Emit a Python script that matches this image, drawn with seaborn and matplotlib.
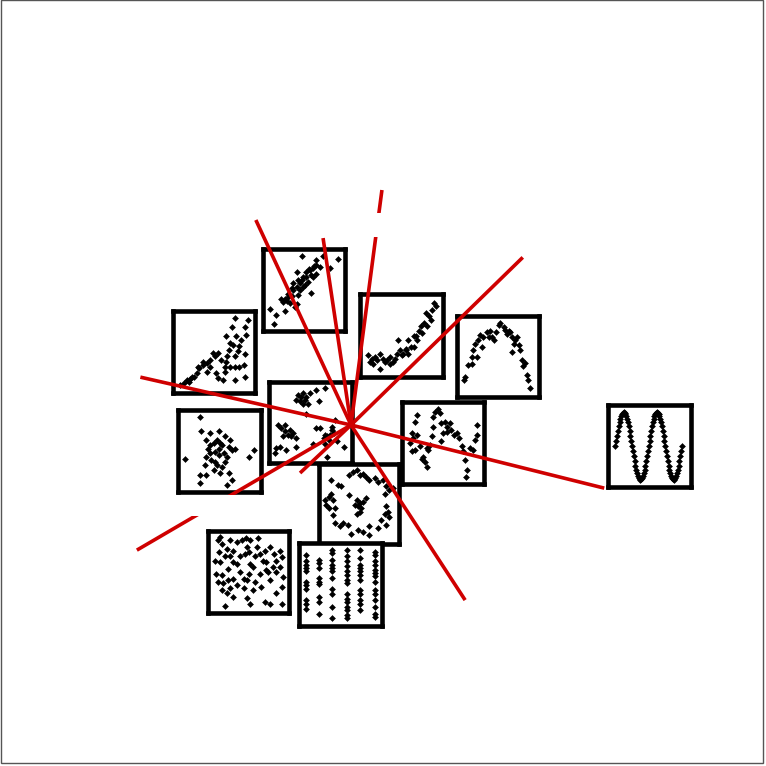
import matplotlib
matplotlib.use("Agg")
import matplotlib.pyplot as plt
import seaborn as sns
from matplotlib.patches import Rectangle
import numpy as np

# Point clouds for each small panel (0-100 inside each panel)
linear_x = [13, 16, 8, 27, 29, 35, 37, 41, 45, 47, 53, 57, 61, 59, 65, 73, 92, 47, 41, 82, 59, 41, 39, 31, 45,
            49, 55, 61, 65, 69, 65, 33, 24, 22, 51, 43, 56, 62, 53, 43, 37, 35, 31, 27, 49]
linear_y = [8, 19, 27, 25, 37, 43, 50, 54, 58, 62, 66, 74, 77, 68, 80, 91, 88, 91, 72, 77, 46, 33, 29, 41, 50,
            54, 60, 66, 70, 78, 86, 34, 35, 39, 56, 44, 76, 79, 72, 62, 58, 52, 45, 39, 66]

fan_x = [9, 13, 17, 21, 23, 19, 25, 29, 32, 37, 41, 45, 49, 51, 55, 59, 63, 63, 70, 76, 80, 86, 88, 76, 61,
         53, 55, 66, 68, 70, 65, 72, 76, 91, 88, 89, 83, 81, 77, 79, 88, 75, 41, 37, 45, 31, 65, 73]
fan_y = [10, 12, 16, 17, 20, 14, 20, 24, 30, 34, 36, 40, 49, 45, 49, 40, 32, 26, 32, 32, 32, 34, 20, 16, 16,
         24, 18, 45, 53, 61, 69, 81, 91, 89, 81, 71, 65, 57, 69, 51, 47, 45, 26, 38, 32, 32, 38, 59]

convex_x = [10, 12, 16, 20, 24, 24, 28, 32, 36, 40, 44, 46, 48, 52, 56, 58, 62, 65, 69, 71, 73, 77, 79, 81, 85,
            87, 89, 91, 83, 67, 55, 51, 42, 36, 18, 14, 30, 58, 65, 75]
convex_y = [26, 18, 16, 20, 28, 10, 22, 20, 24, 18, 28, 45, 32, 28, 34, 28, 36, 49, 45, 55, 61, 65, 77, 61, 69,
            81, 89, 85, 73, 49, 32, 26, 22, 16, 24, 22, 18, 45, 36, 53]

arch_x = [9, 10, 14, 18, 20, 22, 26, 28, 30, 32, 36, 40, 43, 45, 47, 51, 53, 57, 61, 63, 67, 69, 73, 75, 77,
          79, 81, 83, 85, 87, 89, 67, 65, 59, 24, 18, 39, 71]
arch_y = [21, 25, 40, 50, 58, 66, 70, 76, 62, 74, 80, 82, 74, 70, 80, 89, 91, 87, 78, 82, 74, 66, 74, 64, 58,
          46, 38, 42, 27, 21, 11, 56, 80, 83, 50, 41, 74, 70]

clumpy_x = [35, 39, 43, 41, 45, 37, 33, 47, 49, 57, 68, 60, 41,
            11, 15, 19, 23, 27, 29, 33, 17, 25, 13, 9, 21, 33, 19,
            66, 70, 74, 78, 72, 68, 76, 62, 57, 80, 76, 68, 90, 70, 53, 82,
            7, 45]
clumpy_y = [84, 82, 78, 73, 82, 76, 78, 73, 86, 90, 92, 76, 86,
            47, 43, 39, 35, 33, 37, 31, 33, 41, 20, 18, 16, 20, 47,
            31, 33, 35, 37, 29, 35, 41, 43, 43, 53, 45, 24, 20, 8, 24, 27,
            12, 61]

blob_x = [27, 28, 34, 38, 43, 47, 51, 53, 49, 45, 38, 34, 40, 45, 49, 55, 59, 61, 65, 69, 63, 57, 49, 38, 9,
          26, 34, 51, 53, 61, 65, 26, 59, 85, 91, 43, 47, 32, 36, 57]
blob_y = [91, 75, 64, 57, 60, 64, 60, 57, 53, 49, 47, 43, 39, 37, 45, 47, 43, 55, 51, 53, 64, 68, 74, 72, 40,
          21, 21, 23, 31, 23, 15, 11, 9, 43, 51, 27, 33, 33, 53, 37]

wave_x = [18, 16, 12, 14, 10, 12, 16, 22, 26, 28, 24, 30, 34, 32, 36, 38, 38, 40, 44, 46, 48, 52, 55, 58, 60,
          63, 67, 69, 73, 75, 77, 79, 78, 83, 89, 91, 91, 87, 50, 48, 18, 30, 55]
wave_y = [84, 76, 62, 56, 50, 40, 42, 46, 33, 27, 31, 44, 48, 42, 58, 70, 82, 88, 91, 86, 74, 76, 70, 74, 66,
          60, 62, 56, 46, 40, 29, 17, 9, 44, 54, 72, 60, 42, 62, 52, 60, 21, 64]

sine_x = list(range(9, 90))
sine_y = [50, 56.4, 62.7, 68.6, 74.1, 79.0, 83.2, 86.5, 89.0, 90.5, 91, 90.5, 89.0, 86.5, 83.2, 79.0, 74.1,
          68.6, 62.7, 56.4, 50, 43.6, 37.3, 31.4, 25.9, 21.0, 16.8, 13.5, 11.0, 9.5, 9, 9.5, 11.0, 13.5, 16.8,
          21.0, 25.9, 31.4, 37.3, 43.6,
          50, 56.4, 62.7, 68.6, 74.1, 79.0, 83.2, 86.5, 89.0, 90.5, 91, 90.5, 89.0, 86.5, 83.2, 79.0, 74.1,
          68.6, 62.7, 56.4, 50, 43.6, 37.3, 31.4, 25.9, 21.0, 16.8, 13.5, 11.0, 9.5, 9, 9.5, 11.0, 13.5, 16.8,
          21.0, 25.9, 31.4, 37.3, 43.6, 50]

ring_x = [15, 24, 28, 38, 43, 47, 51, 55, 59, 63, 70, 74, 80, 84, 88, 93, 82, 84, 82, 86, 88, 84, 78, 74, 63,
          63, 55, 49, 40, 36, 30, 26, 20, 18, 13, 9, 7, 13, 15, 18, 20,
          47, 51, 49, 53, 45, 55, 51, 38, 59, 47]
ring_y = [80, 74, 72, 86, 90, 92, 86, 88, 84, 80, 82, 78, 80, 72, 68, 70, 63, 47, 38, 40, 34, 24, 30, 20, 22,
          11, 15, 18, 13, 24, 26, 22, 26, 36, 45, 49, 55, 59, 63, 55, 45,
          55, 51, 47, 45, 49, 53, 40, 61, 57, 38]

uniform_x = [12, 17, 23, 27, 36, 42, 47, 52, 62, 48, 50, 46, 13, 15, 21, 27, 31, 36, 40, 58, 64, 68, 72, 82, 91,
             84, 89, 80, 72, 52, 56, 50, 44, 48, 58, 64, 74, 76, 84, 93, 91, 10, 17, 12, 19, 25, 31, 36, 27, 17,
             23, 31, 48, 52, 21, 70, 76, 91, 84, 66, 56, 44, 40, 25, 9, 15, 31, 60, 70, 76, 89]
uniform_y = [89, 84, 78, 89, 87, 89, 91, 89, 91, 80, 74, 72, 74, 62, 70, 70, 62, 60, 70, 70, 72, 64, 62, 72, 68,
             64, 56, 56, 52, 60, 56, 48, 42, 40, 38, 48, 50, 40, 50, 44, 32, 48, 46, 38, 36, 40, 42, 34, 30, 28,
             24, 20, 18, 11, 8, 13, 11, 11, 24, 32, 28, 30, 50, 54, 64, 93, 76, 80, 76, 80, 76]

stripe_cols = [8, 24, 40, 58, 74, 91]
stripe_levels = [
    [86, 78, 74, 70, 66, 53, 49, 45, 31, 27, 21],
    [80, 76, 70, 58, 53, 51, 35, 29, 15],
    [92, 88, 80, 74, 70, 66, 58, 45, 39, 23, 10],
    [92, 84, 78, 72, 66, 62, 56, 52, 39, 33, 29, 23, 19, 13, 10],
    [92, 82, 74, 70, 66, 62, 56, 43, 39, 31, 27, 19],
    [89, 86, 78, 74, 68, 64, 60, 53, 43, 39, 31, 23, 15, 11],
]
stripe_x = [c for c, lv in zip(stripe_cols, stripe_levels) for _ in lv]
stripe_y = [v for lv in stripe_levels for v in lv]

# Rays out of the hub: direction (deg, y up) and length (px)
ray_angles = [114.9, 98.5, 82.5, 44.3, 167.2, -14.0, 210.3, 223.3, -56.9]
ray_lengths = [226, 189, 237, 240, 216, 261, 248, 70, 209]
hub = (351, 425)

W = 766
sns.set_theme(style="white")
fig = plt.figure(figsize=(7.66, 7.66), dpi=100)
fig.patch.set_facecolor("white")

# panel boxes in pixels: left, top, right, bottom
panels = [
    (linear_x, linear_y, (263, 249, 345, 331)),
    (fan_x, fan_y, (173, 311, 255, 393)),
    (convex_x, convex_y, (360, 294, 443, 377)),
    (arch_x, arch_y, (457, 316, 539, 397)),
    (clumpy_x, clumpy_y, (269, 382, 352, 463)),
    (blob_x, blob_y, (178, 410, 261, 492)),
    (wave_x, wave_y, (402, 402, 484, 484)),
    (sine_x, sine_y, (608, 405, 691, 487)),
    (ring_x, ring_y, (319, 464, 399, 544)),
    (uniform_x, uniform_y, (208, 531, 289, 613)),
    (stripe_x, stripe_y, (299, 543, 382, 626)),
]

for px, py, (l, t, r, b) in panels:
    ax = fig.add_axes([l / W, 1 - b / W, (r - l) / W, (b - t) / W])
    sns.scatterplot(x=px, y=py, ax=ax, color="black", marker="D", s=9, linewidth=0.4,
                    edgecolor="black")
    ax.set_xlim(0, 100)
    ax.set_ylim(0, 100)
    ax.set_xticks([])
    ax.set_yticks([])
    ax.set_xlabel("")
    ax.set_ylabel("")
    for sp in ax.spines.values():
        sp.set_visible(True)
        sp.set_linewidth(3.3)
        sp.set_color("black")

# overlay with the red rays, in pixel space
over = fig.add_axes([0, 0, 1, 1], zorder=10)
over.set_xlim(0, W)
over.set_ylim(W, 0)
over.patch.set_alpha(0)
over.axis("off")
for ang, ln in zip(ray_angles, ray_lengths):
    ex = hub[0] + ln * np.cos(np.radians(ang))
    ey = hub[1] - ln * np.sin(np.radians(ang))
    over.plot([hub[0], ex], [hub[1], ey], color="#cf0000", lw=2.6, solid_capstyle="butt", zorder=1)

# blank label boxes that cut the rays
over.add_patch(Rectangle((272, 213), 179, 24, facecolor="white", edgecolor="none", zorder=2))
over.add_patch(Rectangle((172, 495), 118, 21, facecolor="white", edgecolor="none", zorder=2))

# thin frame round the whole picture
fig.add_artist(Rectangle((1 / W, 3 / W), 762 / W, 763 / W, transform=fig.transFigure,
                         fill=False, edgecolor="#555555", linewidth=1))

fig.savefig("out.png", dpi=100)
